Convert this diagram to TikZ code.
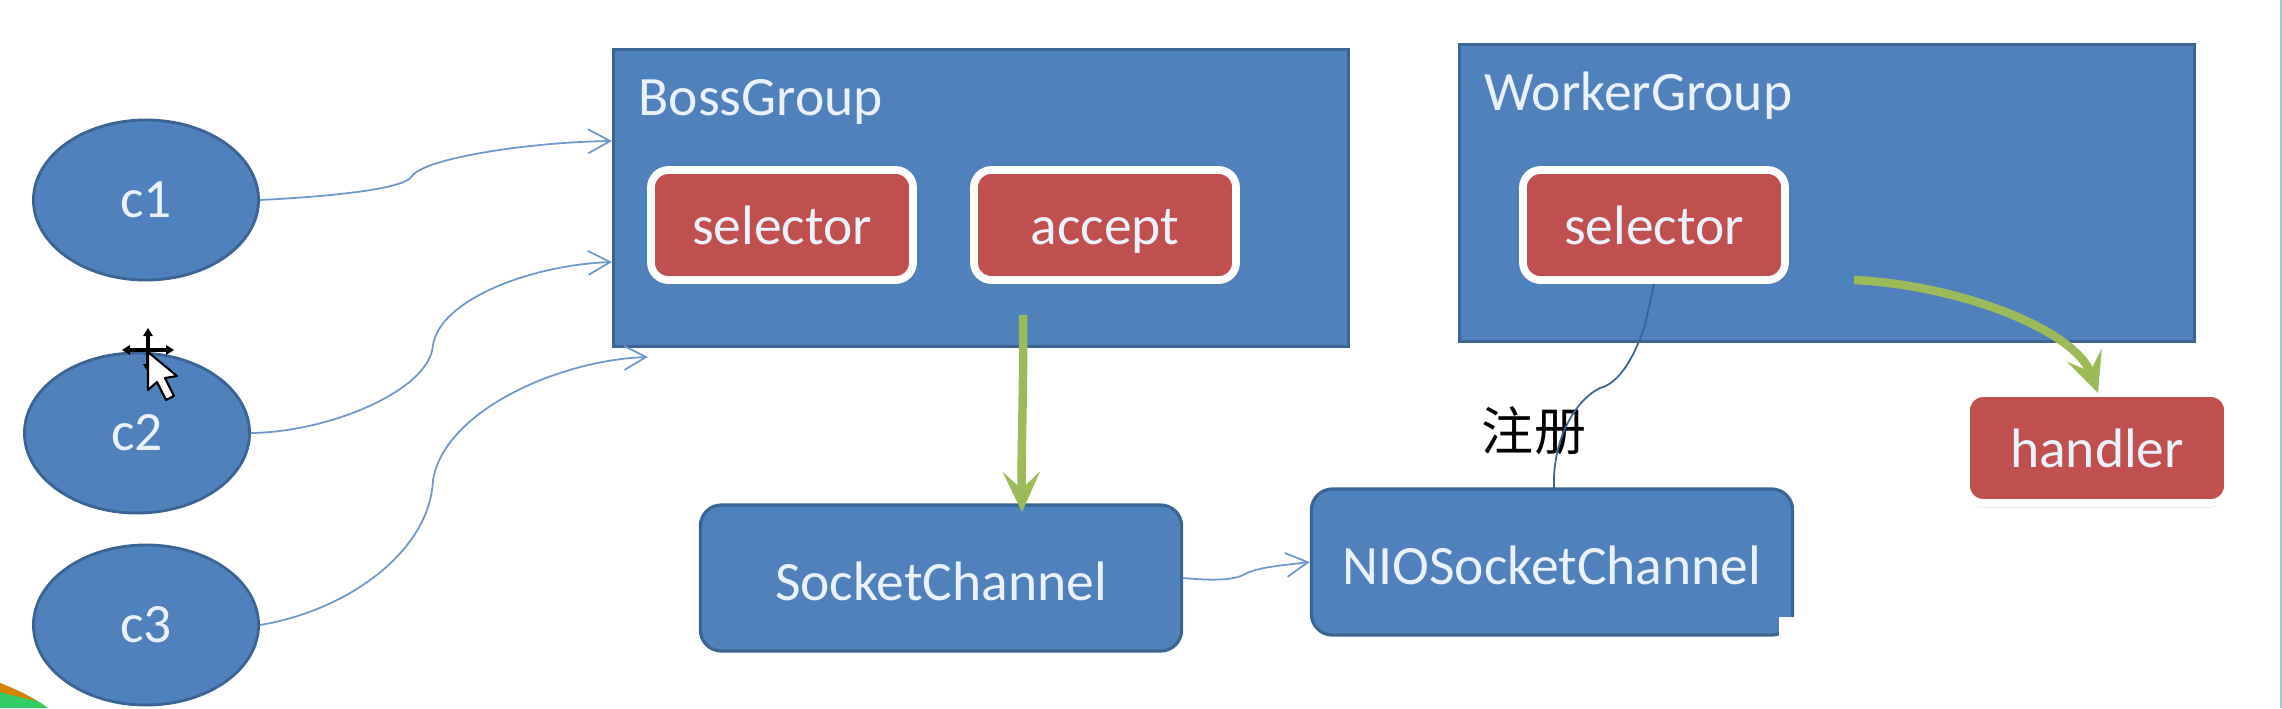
\documentclass[tikz,border=0pt]{standalone}
\usepackage{fontspec}
\setmainfont{Carlito}
\newfontfamily\cjkfont{Noto Sans CJK SC}
\usetikzlibrary{arrows.meta,shadows,shapes.geometric}
\definecolor{blueFill}{HTML}{4F81BD}
\definecolor{blueEdge}{HTML}{3A6494}
\definecolor{redFill}{HTML}{C0504D}
\definecolor{greenLine}{HTML}{9BBB59}
\definecolor{thinLine}{HTML}{6C98CB}
\definecolor{textLight}{HTML}{E9F1FA}
\tikzset{
  client/.style={ellipse, draw=blueEdge, line width=0.8pt, fill=blueFill, text=textLight,
                 minimum width=2.25cm, minimum height=1.6cm, inner sep=0pt},
  group/.style={rectangle, draw=blueEdge, line width=0.9pt, fill=blueFill,
                minimum width=7.35cm, minimum height=2.97cm, inner sep=0pt},
  grouplab/.style={text=textLight, anchor=west, inner sep=0pt},
  channel/.style={rectangle, rounded corners=6pt, draw=blueEdge, line width=0.9pt,
                  fill=blueFill, text=textLight, minimum width=4.81cm, minimum height=1.46cm,
                  inner sep=0pt, text height=12.6pt, text depth=0pt},
  part/.style={rectangle, rounded corners=5pt, draw=white, line width=2.2pt, fill=redFill,
               text=textLight, minimum width=2.62cm, minimum height=1.1cm, inner sep=0pt,
               text height=10.9pt, text depth=0pt,
               drop shadow={shadow xshift=0pt, shadow yshift=-1.2pt, opacity=0.45}},
  thin/.style={-{Straight Barb[length=2.2mm,width=2.4mm]}, draw=thinLine, line width=0.5pt},
  fat/.style={-{Stealth[length=4mm,width=3.7mm,inset=1.7mm]}, draw=greenLine, line width=2.4pt},
}
\begin{document}
\begin{tikzpicture}[x=0.01cm, y=-0.01cm, font=\fontsize{15.8}{19}\selectfont]
\useasboundingbox (0,0) rectangle (2282,708);
% corner of the slide background
\fill[green!50!teal!80] (0,683) .. controls (22,692) and (38,700) .. (48,708) -- (0,708) -- cycle;
\fill[orange!70!olive] (0,683) .. controls (15,689) and (28,695) .. (36,701) -- (0,692) -- cycle;
\fill[teal!40] (2280,0) rectangle (2282,708);
% clients
\node[client] (c1) at (146,200) {c1};
\node[client] (c2) at (137,433) {c2};
\node[client] (c3) at (146,625) {c3};
% groups
\node[group] (boss) at (981,198) {};
\node[group] (worker) at (1827,193) {};
\node[grouplab] (bossLab) at (638,102) {BossGroup};
\node[grouplab] (workerLab) at (1484,96) {WorkerGroup};
\node[part] (bossSel) at (782,225) {selector};
\node[part] (accept) at (1105,225) {accept};
\node[part] (workerSel) at (1654,225) {selector};
\node[part] (handler) at (2097,448) {handler};
% channels
\node[channel] (socket) at (941,578) {SocketChannel};
\node[channel] (nio) at (1552,562) {NIOSocketChannel};
\fill[white] (1779,617) rectangle (1800,645);
\node[font=\cjkfont\fontsize{14.8}{17}\selectfont, text=black, inner sep=0pt] (reg) at (1534,431) {注册};
% free ends
\coordinate (bossIn1) at (612,141);
\coordinate (bossIn2) at (612,262);
\coordinate (bossIn3) at (648,357);
\coordinate (acceptOut) at (1023,315);
\coordinate (socketIn) at (1022,512);
\coordinate (selOut) at (1854,280);
\coordinate (nioOut) at (1554,489);
\coordinate (handlerIn) at (2098,393);
% connectors
\draw[thin] (c1.east) .. controls (320,197) and (405,190) .. (412,176)
  .. controls (425,158) and (530,142) .. (bossIn1);
\draw[thin] (c2.east) .. controls (330,432) and (430,390) .. (433,345)
  .. controls (440,300) and (530,265) .. (bossIn2);
\draw[thin] (c3.east) .. controls (350,610) and (430,550) .. (433,480)
  .. controls (445,410) and (560,360) .. (bossIn3);
\draw[thin] (socket.east) .. controls (1215,581) and (1235,580) .. (1245,574)
  .. controls (1258,567) and (1285,565) .. (nio.west);
\draw[draw=blueEdge, line width=0.5pt] (nioOut) .. controls (1552,440) and (1575,400) .. (1600,388)
  .. controls (1625,382) and (1640,340) .. (1645,325) -- (workerSel.south);
\draw[fat] (acceptOut) .. controls (1024,380) and (1021,450) .. (socketIn);
\draw[fat] (selOut) .. controls (1960,285) and (2075,330) .. (handlerIn);
% mouse pointer
\draw[black, line width=0.9pt] (126,350) -- (170,350) (148,332) -- (148,368);
\fill[black] (148,328) -- (143,336) -- (153,336) -- cycle
  (148,372) -- (143,364) -- (153,364) -- cycle
  (122,350) -- (130,345) -- (130,355) -- cycle
  (174,350) -- (166,345) -- (166,355) -- cycle;
\draw[black, fill=white, line width=0.6pt, line join=round] (148,352) -- (148,390) -- (157,382)
  -- (166,400) -- (174,396) -- (165,378) -- (177,376) -- cycle;
\end{tikzpicture}
\end{document}
